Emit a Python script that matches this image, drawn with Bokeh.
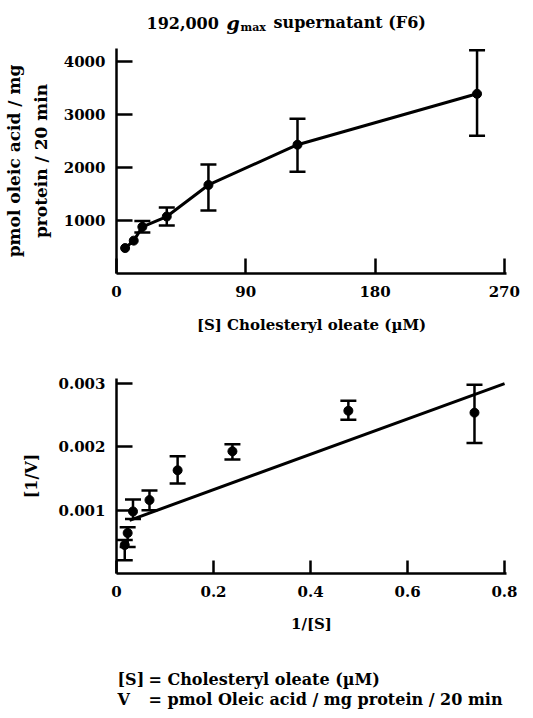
from bokeh.plotting import figure
from bokeh.models import (ColumnDataSource, Whisker, TeeHead, Label, FixedTicker, Range1d,
                          NumeralTickFormatter)
from bokeh.layouts import column
from bokeh.embed import file_html
from bokeh.resources import INLINE

# ---- data: top panel (saturation curve) ----
s_conc = [6, 12, 18, 35, 64, 126, 251]
v_rate = [480, 620, 880, 1075, 1670, 2430, 3390]
v_low = [480, 620, 775, 905, 1190, 1920, 2600]
v_high = [480, 620, 990, 1245, 2055, 2920, 4210]

# ---- data: bottom panel (double reciprocal) ----
inv_s = [0.017, 0.023, 0.034, 0.068, 0.126, 0.239, 0.478, 0.738]
inv_v = [0.00045, 0.00064, 0.00098, 0.00116, 0.00163, 0.00193, 0.00257, 0.00254]
inv_v_low = [0.00021, 0.00042, 0.00086, 0.00100, 0.00142, 0.00180, 0.00243, 0.00206]
inv_v_high = [0.00053, 0.00073, 0.00117, 0.00131, 0.00185, 0.00204, 0.00273, 0.00298]
fit_x = [0.027, 0.8]
fit_y = [0.00084, 0.00300]

top_xticks = [0, 90, 180, 270]
top_yticks = [1000, 2000, 3000, 4000]
bot_xticks = [0, 0.2, 0.4, 0.6, 0.8]
bot_yticks = [0.001, 0.002, 0.003]

FONT = "DejaVu Serif"
INK = "#000000"
W = 517


def style(p, xticks, yticks, xtick_len, ytick_len):
    p.grid.visible = False
    p.outline_line_color = None
    p.xaxis.ticker = FixedTicker(ticks=xticks)
    p.yaxis.ticker = FixedTicker(ticks=yticks)
    for ax, tl in ((p.xaxis, xtick_len), (p.yaxis, ytick_len)):
        ax.major_tick_in = tl
        ax.major_tick_out = 0
        ax.minor_tick_line_color = None
        ax.axis_line_width = 2.5
        ax.major_tick_line_width = 2.5
        ax.axis_line_color = INK
        ax.major_tick_line_color = INK
        ax.major_label_text_font = FONT
        ax.major_label_text_font_style = "bold"
        ax.major_label_text_font_size = "15px"
        ax.major_label_text_color = INK
        ax.axis_label_text_font = FONT
        ax.axis_label_text_font_style = "bold"
        ax.axis_label_text_font_size = "15px"
        ax.axis_label_text_color = INK
    p.xaxis.major_label_standoff = 12
    p.yaxis.major_label_standoff = 11


def add_errorbars(p, xs, lows, highs, cap):
    idx = [i for i in range(len(xs)) if highs[i] > lows[i]]
    src = ColumnDataSource(dict(x=[xs[i] for i in idx],
                                lo=[lows[i] for i in idx],
                                hi=[highs[i] for i in idx]))
    w = Whisker(base="x", lower="lo", upper="hi", source=src,
                line_color=INK, line_width=2.5,
                upper_head=TeeHead(size=cap, line_width=2.5, line_color=INK),
                lower_head=TeeHead(size=cap, line_width=2.5, line_color=INK))
    p.add_layout(w)


def text_panel(height):
    p = figure(width=W, height=height, frame_width=W, frame_height=height,
               min_border=0, x_range=Range1d(0, 1), y_range=Range1d(0, 1),
               output_backend="svg", toolbar_location=None)
    p.axis.visible = False
    p.grid.visible = False
    p.outline_line_color = None
    return p


def lab(p, text, x, y, size="15px", style="bold"):
    # x measured from the (column-aligned) frame left edge, y from the panel bottom
    p.add_layout(Label(x=x, y=y, x_units="screen", y_units="screen", text=text,
                       text_font=FONT, text_font_style=style, text_font_size=size,
                       text_align="left", text_baseline="alphabetic", text_color=INK))


# ---------------- title panel ----------------
pt = text_panel(48)
lab(pt, "192,000", 30, 26, size="16px")
lab(pt, "g", 110, 26, size="19px", style="bold italic")
lab(pt, "max", 124, 21, size="11px")
lab(pt, "supernatant (F6)", 157, 26, size="16px")

# ---------------- top figure ----------------
p1 = figure(width=W, height=292, frame_width=390, frame_height=225,
            min_border_left=109, min_border_right=18, min_border_top=0, min_border_bottom=67,
            x_range=Range1d(0, 271.5), y_range=Range1d(0, 4245),
            output_backend="svg", toolbar_location=None)
style(p1, top_xticks, top_yticks, 15, 16)
p1.xaxis.axis_label = "[S] Cholesteryl oleate (µM)"
p1.xaxis.axis_label_standoff = 16
p1.yaxis.axis_label = "pmol oleic acid / mg\nprotein / 20 min"
p1.yaxis.axis_label_standoff = 10
p1.yaxis.axis_label_text_line_height = 1.35
p1.yaxis.axis_label_text_font_size = "17px"

p1.line(s_conc, v_rate, line_color=INK, line_width=3)
add_errorbars(p1, s_conc, v_low, v_high, 16)
p1.scatter(s_conc, v_rate, size=9, fill_color=INK, line_color=INK)

# ---------------- bottom figure ----------------
p2 = figure(width=W, height=300, frame_width=390, frame_height=195,
            min_border_left=109, min_border_right=18, min_border_top=38, min_border_bottom=67,
            x_range=Range1d(0, 0.804), y_range=Range1d(0, 0.00308),
            output_backend="svg", toolbar_location=None)
style(p2, bot_xticks, bot_yticks, 13, 16)
p2.xaxis.formatter = NumeralTickFormatter(format="0.[0]")
p2.yaxis.formatter = NumeralTickFormatter(format="0.000")
p2.xaxis.axis_label = "1/[S]"
p2.xaxis.axis_label_standoff = 15
p2.yaxis.axis_label = "[1/V]"
p2.yaxis.axis_label_standoff = 15
p2.yaxis.axis_label_text_font_size = "16px"

p2.line(fit_x, fit_y, line_color=INK, line_width=3)
add_errorbars(p2, inv_s, inv_v_low, inv_v_high, 16)
p2.scatter(inv_s, inv_v, size=9, fill_color=INK, line_color=INK)

# ---------------- footer panel ----------------
pf = text_panel(70)
lab(pf, "[S]", 1, 31, size="16px")
lab(pf, "= Cholesteryl oleate (µM)", 32, 31, size="16px")
lab(pf, "V", 1, 11, size="16px")
lab(pf, "= pmol Oleic acid / mg protein / 20 min", 32, 11, size="16px")

layout = column(pt, p1, p2, pf, spacing=0)
open("out.html", "w").write(file_html(layout, INLINE))
